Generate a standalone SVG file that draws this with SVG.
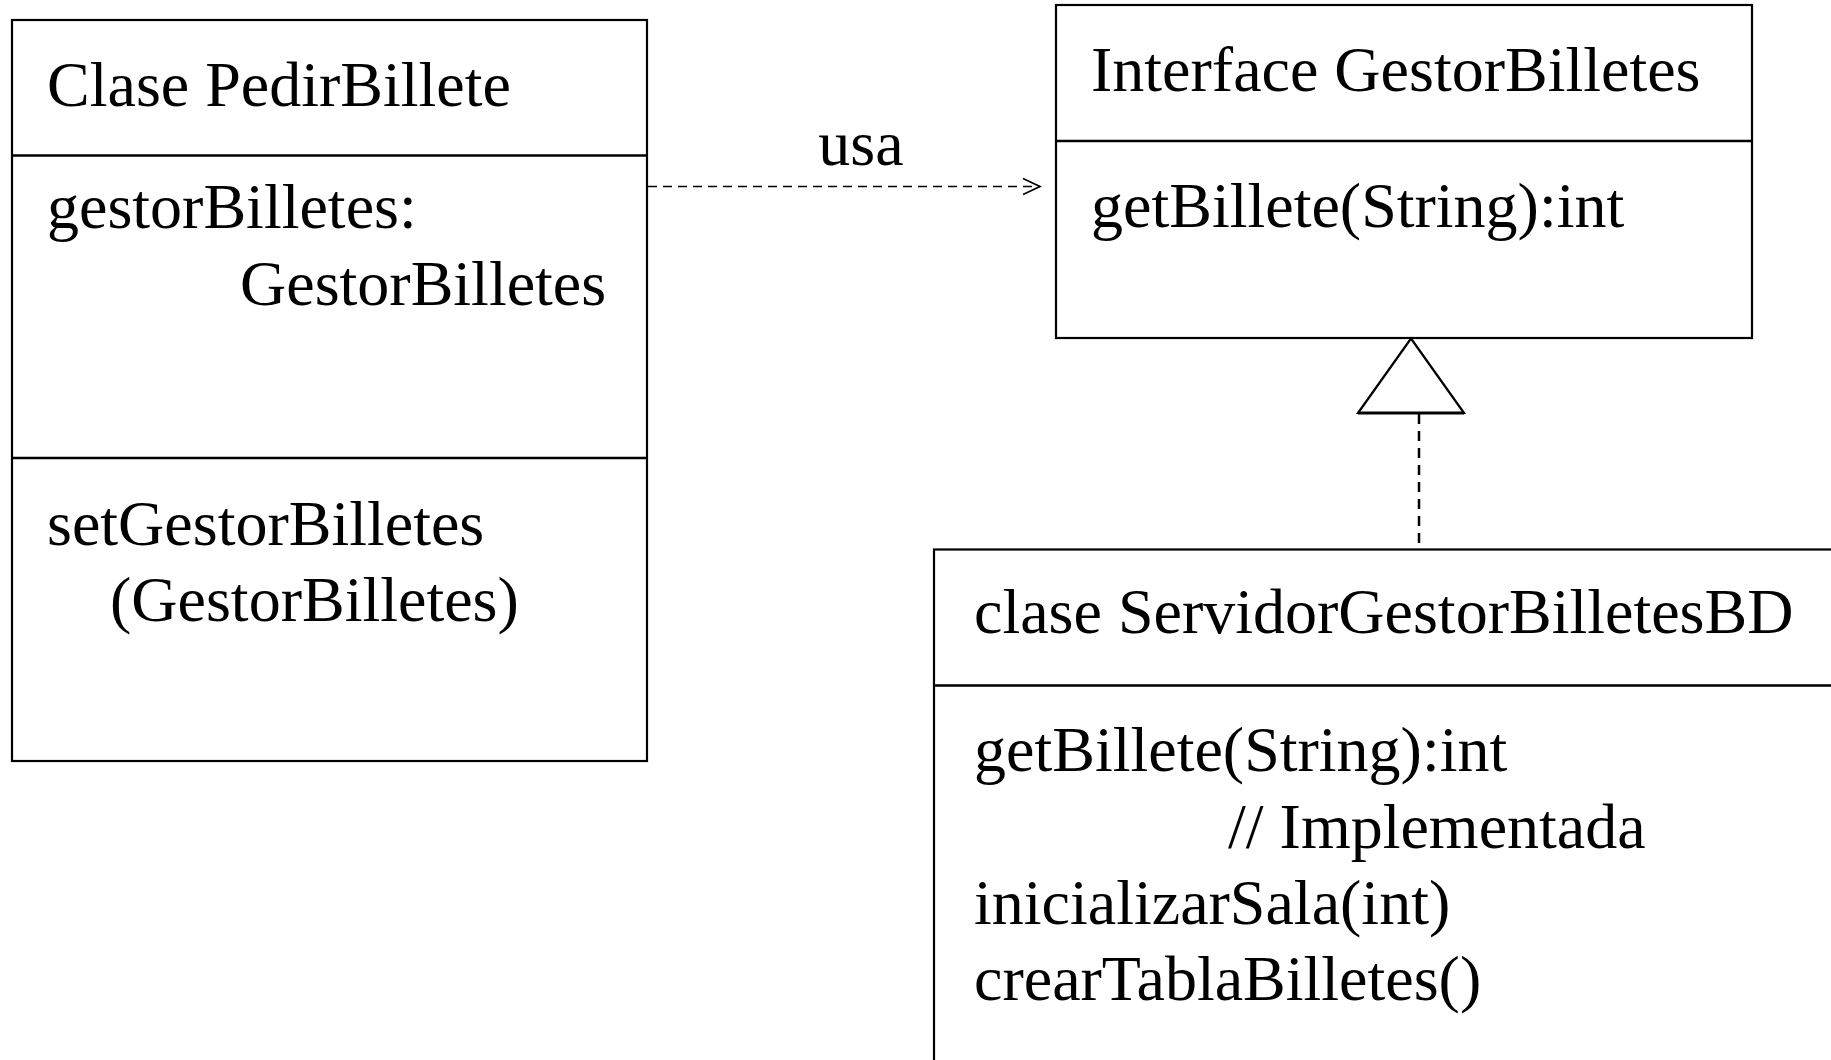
<svg xmlns="http://www.w3.org/2000/svg" width="1831" height="1060" viewBox="0 0 1831 1060">
  <style>
    .box { fill: #ffffff; stroke: #000000; stroke-width: 2.2; }
    .div { stroke: #000000; stroke-width: 2.6; }
    .t { font-family: "Liberation Serif", "Times New Roman", serif; font-size: 64px; fill: #000000; }
    .dash { fill: none; stroke: #000000; stroke-width: 1.7; stroke-dasharray: 9 6; }
    .dash2 { fill: none; stroke: #000000; stroke-width: 2.5; stroke-dasharray: 10 7; }
  </style>
  <defs>
    <marker id="open-arrow" viewBox="0 0 20 20" refX="18" refY="10" markerWidth="20" markerHeight="20" markerUnits="userSpaceOnUse" orient="auto">
      <path d="M1,2 L18,10 L1,18" fill="none" stroke="#000000" stroke-width="1.7"/>
    </marker>
  </defs>

  <rect width="1831" height="1060" fill="#ffffff"/>

  <!-- class PedirBillete -->
  <g id="pedir-billete">
    <rect class="box" x="12" y="20" width="635" height="741"/>
    <line class="div" x1="12" y1="155.5" x2="647" y2="155.5"/>
    <line class="div" x1="12" y1="458" x2="647" y2="458"/>
    <text class="t" x="47" y="106">Clase PedirBillete</text>
    <text class="t" x="47" y="228">gestorBilletes:</text>
    <text class="t" x="240" y="305">GestorBilletes</text>
    <text class="t" x="47" y="545">setGestorBilletes</text>
    <text class="t" x="110" y="621">(GestorBilletes)</text>
  </g>

  <!-- interface GestorBilletes -->
  <g id="gestor-billetes">
    <rect class="box" x="1056" y="5" width="696" height="333"/>
    <line class="div" x1="1056" y1="141" x2="1752" y2="141"/>
    <text class="t" x="1091" y="91">Interface GestorBilletes</text>
    <text class="t" x="1091" y="227">getBillete(String):int</text>
  </g>

  <!-- class ServidorGestorBilletesBD -->
  <g id="servidor-gestor-billetes-bd">
    <rect class="box" x="934" y="549.5" width="920" height="530"/>
    <line class="div" x1="934" y1="685.5" x2="1854" y2="685.5"/>
    <text class="t" x="974" y="633">clase ServidorGestorBilletesBD</text>
    <text class="t" x="974" y="771">getBillete(String):int</text>
    <text class="t" x="1228" y="848">// Implementada</text>
    <text class="t" x="974" y="924">inicializarSala(int)</text>
    <text class="t" x="974" y="1000">crearTablaBilletes()</text>
  </g>

  <!-- connectors -->
  <g id="connectors">
    <line class="dash" x1="648" y1="186.5" x2="1040" y2="186.5" marker-end="url(#open-arrow)"/>
    <text class="t" x="861" y="165" text-anchor="middle">usa</text>
    <line class="dash2" x1="1419" y1="414" x2="1419" y2="549"/>
    <path d="M1411,338.5 L1464,413 L1358,413 Z" fill="#ffffff" stroke="#000000" stroke-width="2.2" stroke-linejoin="miter"/>
    <line x1="1358" y1="413" x2="1464" y2="413" stroke="#000000" stroke-width="3"/>
  </g>
</svg>
